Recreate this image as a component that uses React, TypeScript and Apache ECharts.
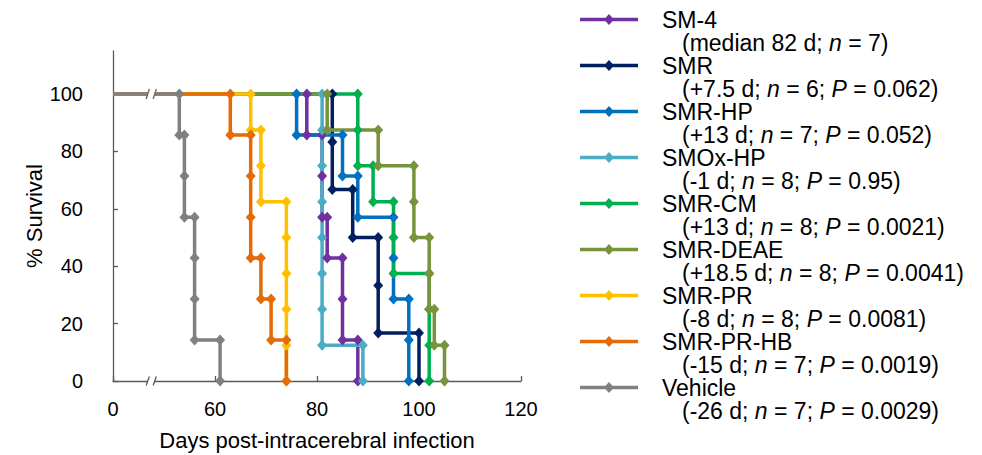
import React, { useEffect, useRef } from "react";
import * as echarts from "echarts";

const FONT = "'Liberation Sans', Arial, Helvetica, sans-serif";

// Axis: broken x axis, the tick labelled "0" sits at axis value 40
const AXIS_ZERO = 40;
const BREAK_AT = 47.5;
const xTicks = [40, 60, 80, 100, 120];
const yTicks = [0, 20, 40, 60, 80, 100];

const seriesNames = [
  "SM-4",
  "SMR",
  "SMR-HP",
  "SMOx-HP",
  "SMR-CM",
  "SMR-DEAE",
  "SMR-PR",
  "SMR-PR-HB",
  "Vehicle",
];
const diffNotes = [
  "median 82 d",
  "+7.5 d",
  "+13 d",
  "-1 d",
  "+13 d",
  "+18.5 d",
  "-8 d",
  "-15 d",
  "-26 d",
];
const nValues = ["7", "6", "7", "8", "8", "8", "8", "7", "7"];
const pValues = [null, "0.062", "0.052", "0.95", "0.0021", "0.0041", "0.0081", "0.0019", "0.0029"];
const colors = [
  "#7030A0",
  "#002060",
  "#0070C0",
  "#4BACC6",
  "#00B050",
  "#77933C",
  "#FFC000",
  "#E36C09",
  "#808080",
];

// Kaplan–Meier step corners: days post-infection and % survival
const sm4Days = [0, 78, 78, 81, 81, 81, 82, 82, 85, 85, 85, 88, 88];
const sm4Surv = [100, 100, 85.7, 85.7, 71.4, 57.1, 57.1, 42.9, 42.9, 28.6, 14.3, 14.3, 0];

const smrDays = [0, 83, 83, 83, 87, 87, 92, 92, 92, 100, 100];
const smrSurv = [100, 100, 83.3, 66.7, 66.7, 50, 50, 33.3, 16.7, 16.7, 0];

const smrHpDays = [0, 76, 76, 85, 85, 88, 88, 95, 95, 95, 98, 98, 98];
const smrHpSurv = [100, 100, 85.7, 85.7, 71.4, 71.4, 57.1, 57.1, 42.9, 28.6, 28.6, 14.3, 0];

const smoxHpDays = [0, 81, 81, 81, 81, 81, 81, 81, 81, 89, 89];
const smoxHpSurv = [100, 100, 87.5, 75, 62.5, 50, 37.5, 25, 12.5, 12.5, 0];

const smrCmDays = [0, 88, 88, 88, 91, 91, 95, 95, 95, 102, 102, 102, 102];
const smrCmSurv = [100, 100, 87.5, 75, 75, 62.5, 62.5, 50, 37.5, 37.5, 25, 12.5, 0];

const smrDeaeDays = [0, 82, 82, 92, 92, 99, 99, 99, 102, 102, 102, 103, 103, 105, 105];
const smrDeaeSurv = [100, 100, 87.5, 87.5, 75, 75, 62.5, 50, 50, 37.5, 25, 25, 12.5, 12.5, 0];

const smrPrDays = [0, 67, 67, 69, 69, 69, 74, 74, 74, 74, 74, 74];
const smrPrSurv = [100, 100, 87.5, 87.5, 75, 62.5, 62.5, 50, 37.5, 25, 12.5, 0];

const smrPrHbDays = [0, 63, 63, 67, 67, 67, 67, 69, 69, 71, 71, 74, 74];
const smrPrHbSurv = [100, 100, 85.7, 85.7, 71.4, 57.1, 42.9, 42.9, 28.6, 28.6, 14.3, 14.3, 0];

const vehicleDays = [0, 53, 53, 54, 54, 54, 56, 56, 56, 56, 61, 61];
const vehicleSurv = [100, 100, 85.7, 85.7, 71.4, 57.1, 57.1, 42.9, 28.6, 14.3, 14.3, 0];

const allDays = [sm4Days, smrDays, smrHpDays, smoxHpDays, smrCmDays, smrDeaeDays, smrPrDays, smrPrHbDays, vehicleDays];
const allSurv = [sm4Surv, smrSurv, smrHpSurv, smoxHpSurv, smrCmSurv, smrDeaeSurv, smrPrSurv, smrPrHbSurv, vehicleSurv];

const toAxis = (d: number) => (d < AXIS_ZERO ? AXIS_ZERO : d);

// Legend icon: line + diamond in the upper half of a 58 x 46 box (first text line)
const LEGEND_ICON =
  "path://M0 0 M58 46 M0 9.75 L58 9.75 L58 13.25 L0 13.25 Z M29 6 L34 11.5 L29 17 L24 11.5 Z";

function legendLabel(i: number): string {
  const first = `{g|}{t|${seriesNames[i]}}`;
  let second = `{g2|}{t|(${diffNotes[i]}; }{i|n}{t| = ${nValues[i]}}`;
  if (pValues[i]) {
    second += `{t|; }{i|P}{t| = ${pValues[i]})}`;
  } else {
    second += `{t|)}`;
  }
  return first + "\n" + second;
}

export default function App() {
  const ref = useRef<HTMLDivElement>(null);

  useEffect(() => {
    if (!ref.current) return;
    const chart = echarts.init(ref.current, null, { renderer: "svg" });

    const series = seriesNames.map((name, i) => ({
      name,
      type: "line",
      data: allDays[i].map((d, k) =>
        k === 0
          ? { value: [toAxis(d), allSurv[i][k]], symbol: "none" }
          : { value: [toAxis(d), allSurv[i][k]] }
      ),
      symbol: "diamond",
      symbolSize: [10, 11],
      showAllSymbol: true,
      lineStyle: { color: colors[i], width: 3.5 },
      itemStyle: { color: colors[i] },
      emphasis: { disabled: true },
      silent: true,
      clip: false,
    }));

    const legendMap: Record<string, string> = {};
    seriesNames.forEach((n, i) => (legendMap[n] = legendLabel(i)));

    const tokenBase = { fontSize: 23, lineHeight: 23, fontFamily: FONT, color: "#000" };

    const option: any = {
      animation: false,
      textStyle: { fontFamily: FONT },
      grid: { left: 113, top: 51, width: 408, height: 330, containLabel: false, outerBoundsMode: "none" },
      xAxis: {
        type: "value",
        min: 40,
        max: 120,
        interval: 20,
        axisLine: { show: true, lineStyle: { color: "#595959", width: 1.3 } },
        axisTick: { show: true, inside: true, length: 5, lineStyle: { color: "#595959", width: 1.3 }, customValues: xTicks },
        axisLabel: {
          fontSize: 20,
          color: "#000",
          margin: 18,
          fontFamily: FONT,
          customValues: xTicks,
          formatter: (v: number) => (v === AXIS_ZERO ? "0" : String(v)),
        },
        splitLine: { show: false },
        name: "Days post-intracerebral infection",
        nameLocation: "middle",
        nameGap: 48,
        nameTextStyle: { fontSize: 22, color: "#000", fontFamily: FONT },
      },
      yAxis: {
        type: "value",
        min: 0,
        max: 115,
        interval: 20,
        axisLine: { show: true, lineStyle: { color: "#595959", width: 1.3 } },
        axisTick: { show: true, inside: true, length: 5, lineStyle: { color: "#595959", width: 1.3 }, customValues: yTicks },
        axisLabel: { fontSize: 20, color: "#000", margin: 30, fontFamily: FONT, customValues: yTicks },
        splitLine: { show: false },
        name: "% Survival",
        nameLocation: "middle",
        nameGap: 68,
        nameRotate: 90,
        nameTextStyle: { fontSize: 22, color: "#000", fontFamily: FONT },
      },
      legend: {
        orient: "vertical",
        left: 580,
        top: 8,
        padding: 0,
        itemGap: 0,
        itemWidth: 58,
        itemHeight: 46,
        icon: LEGEND_ICON,
        symbolKeepAspect: false,
        itemStyle: { borderWidth: 0 },
        selectedMode: false,
        data: seriesNames,
        formatter: (name: string) => legendMap[name],
        textStyle: {
          ...tokenBase,
          rich: {
            t: { ...tokenBase },
            i: { ...tokenBase, fontStyle: "italic" },
            g: { ...tokenBase, width: 19 },
            g2: { ...tokenBase, width: 39 },
          },
        },
      },
      series,
    };

    chart.setOption(option);

    // Axis-break marks "//" on the x axis and on the top survival line
    const pAxis = chart.convertToPixel({ gridIndex: 0 }, [BREAK_AT, 0]) as number[];
    const pTop = chart.convertToPixel({ gridIndex: 0 }, [BREAK_AT, 100]) as number[];
    const half = 3.5;
    const mk = (cx: number, cy: number, h: number, stroke: string) => [
      { type: "rect", shape: { x: cx - half, y: cy - 4, width: half * 2, height: 8 }, style: { fill: "#fff" }, z: 100, silent: true },
      { type: "line", shape: { x1: cx - half - 1.6, y1: cy + h / 2, x2: cx - half + 1.6, y2: cy - h / 2 }, style: { stroke, lineWidth: 1.3 }, z: 101, silent: true },
      { type: "line", shape: { x1: cx + half - 1.6, y1: cy + h / 2, x2: cx + half + 1.6, y2: cy - h / 2 }, style: { stroke, lineWidth: 1.3 }, z: 101, silent: true },
    ];
    chart.setOption({
      graphic: [...mk(pAxis[0], pAxis[1], 9, "#595959"), ...mk(pTop[0], pTop[1], 10, "#666666")],
    });

    return () => chart.dispose();
  }, []);

  return (
    <div
      ref={ref}
      style={{ position: "fixed", left: 0, top: 0, width: 982, height: 455, background: "#fff" }}
    />
  );
}
